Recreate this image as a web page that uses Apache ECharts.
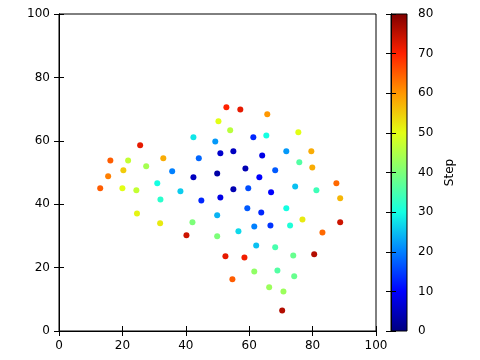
<!DOCTYPE html>
<html><head><meta charset="utf-8">
<script src="https://cdn.jsdelivr.net/npm/echarts@6/dist/echarts.min.js"></script>
<style>html,body{margin:0;padding:0;background:#fff}#c{width:480px;height:360px}</style>
</head><body><div id="c"></div>
<script>
const xs = [42.4,25.6,16.2,21.8,32.9,44.1,15.5,20.3,27.5,35.7,42.4,13.0,20.0,24.4,31.0,38.3,32.0,24.6,31.9,42.1,40.2,52.8,57.2,65.7,50.3,54.0,75.5,49.3,61.3,65.4,50.9,55.0,64.1,71.7,79.6,75.8,79.9,49.9,58.8,63.2,68.2,55.0,59.7,66.9,74.5,81.2,87.5,88.7,44.9,50.9,59.4,71.7,63.8,76.8,88.7,49.9,61.6,66.7,72.9,83.1,49.9,56.6,62.2,68.2,73.9,80.5,52.5,58.5,61.6,68.9,74.2,54.7,66.3,70.8,70.4];
const ys = [61.1,58.6,53.8,53.8,54.5,54.5,48.8,50.7,52.0,50.4,48.5,45.0,45.0,44.4,46.6,44.1,41.5,37.1,34.0,34.3,30.2,70.6,69.9,68.4,66.2,63.3,62.7,59.8,61.1,61.7,56.1,56.7,55.4,56.7,56.7,53.2,51.6,49.7,51.3,48.5,50.7,44.7,45.0,43.8,45.6,44.4,46.6,41.9,41.2,42.1,38.7,38.7,37.4,35.2,34.3,36.5,33.0,33.3,33.3,31.1,29.9,31.5,27.0,26.4,23.8,24.2,23.6,23.2,18.8,19.1,17.3,16.3,13.8,12.5,6.5];
const steps = [28,72,65,47,58,18,62,55,44,20,5,65,50,47,30,26,32,51,52,40,74,70,72,60,50,46,50,22,13,30,6,5,8,22,58,36,58,3,4,10,17,4,16,10,25,34,64,57,13,8,17,30,13,52,74,24,20,14,31,64,40,27,25,35,38,76,72,71,42,36,38,65,43,43,76];
const xTicks = [0,20,40,60,80,100];
const yTicks = [0,20,40,60,80,100];
const stepTicks = [0,10,20,30,40,50,60,70,80];
const jet = ['#000080','#0000ff','#0080ff','#14ffe2','#7cff79','#e2ff14','#ff9700','#ff2100','#800000'];

const data = xs.map((x,i)=>[x, ys[i], steps[i]]);
const font = {fontFamily:'DejaVu Sans', fontSize:12, color:'#000'};
const lineStyle = {color:'#000', width:1};

const chart = echarts.init(document.getElementById('c'), null, {renderer:'canvas'});
const gl = 59, gt = 14, gw = 317, gh = 317;
const cl = 391, cw = 16;
chart.setOption({
  animation:false,
  backgroundColor:'#fff',
  grid:[
    {left:gl, top:gt, width:gw, height:gh, show:true, borderColor:'#000', borderWidth:1, backgroundColor:'transparent'},
    {left:cl, top:gt, width:cw, height:gh, show:true, borderColor:'#000', borderWidth:1, backgroundColor:'transparent'}
  ],
  xAxis:[
    {gridIndex:0, type:'value', min:xTicks[0], max:xTicks[xTicks.length-1], interval:20, position:'bottom',
     axisLine:{show:true, lineStyle}, axisTick:{show:true, inside:true, length:5, lineStyle},
     axisLabel:{...font, margin:9}, splitLine:{show:false}},
    {gridIndex:0, type:'value', min:0, max:100, interval:20, position:'top',
     axisLine:{show:true, lineStyle}, axisTick:{show:true, inside:true, length:5, lineStyle},
     axisLabel:{show:false}, splitLine:{show:false}},
    {gridIndex:1, type:'value', min:0, max:1, show:false}
  ],
  yAxis:[
    {gridIndex:0, type:'value', min:yTicks[0], max:yTicks[yTicks.length-1], interval:20, position:'left',
     axisLine:{show:true, lineStyle}, axisTick:{show:true, inside:true, length:5, lineStyle},
     axisLabel:{...font, margin:9}, splitLine:{show:false}},
    {gridIndex:0, type:'value', min:0, max:100, interval:20, position:'right',
     axisLine:{show:true, lineStyle}, axisTick:{show:true, inside:true, length:5, lineStyle},
     axisLabel:{show:false}, splitLine:{show:false}},
    {gridIndex:1, type:'value', min:stepTicks[0], max:stepTicks[stepTicks.length-1], interval:10, position:'right',
     name:'Step', nameLocation:'middle', nameGap:37, nameRotate:90, nameTextStyle:{...font},
     axisLine:{show:true, lineStyle}, axisTick:{show:true, inside:true, length:5, lineStyle},
     axisLabel:{...font, margin:11}, splitLine:{show:false}},
    {gridIndex:1, type:'value', min:0, max:80, interval:10, position:'left',
     axisLine:{show:true, lineStyle}, axisTick:{show:true, inside:true, length:5, lineStyle},
     axisLabel:{show:false}, splitLine:{show:false}}
  ],
  visualMap:{type:'continuous', show:false, dimension:2, min:0, max:80, seriesIndex:0, inRange:{color:jet}},
  graphic:[{
    type:'rect', left:cl, top:gt, z:-1,
    shape:{width:cw, height:gh},
    style:{fill:new echarts.graphic.LinearGradient(0,1,0,0, jet.map((c,i)=>({offset:i/(jet.length-1), color:c})))}
  }],
  series:[{
    type:'scatter', xAxisIndex:0, yAxisIndex:0, data:data, symbol:'circle', symbolSize:6,
    itemStyle:{opacity:1}
  }]
});
</script></body></html>
